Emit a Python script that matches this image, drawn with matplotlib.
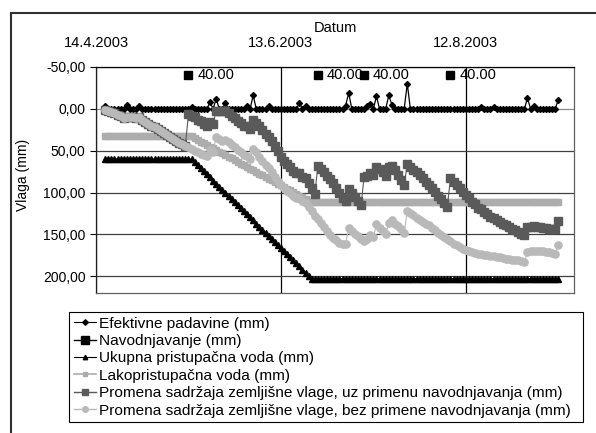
import matplotlib
matplotlib.use('Agg')
import matplotlib.pyplot as plt
from matplotlib.lines import Line2D

plt.rcParams['font.family'] = ['Liberation Sans', 'DejaVu Sans']

# day number counted from 14.4.2003 (day 0)
days = list(range(3, 151))

rain = [-4, 0, 0, 0, 0, 0, 0, -5, 0, 0,
        0, -3, 0, 0, 0, 0, 0, 0, 0, 0,
        0, 0, 0, 0, 0, 0, 0, 0, -2, 0,
        0, 0, 0, 0, -8, 0, -12, 0, 0, -7,
        0, 0, 0, 0, 0, 0, -3, 0, -16, 0,
        0, 0, 0, -3, 0, 0, 0, 0, 0, 0,
        0, 0, 0, -7, 0, -3, 0, 0, 0, 0,
        0, 0, 0, 0, 0, 0, 0, 0, -4, -19,
        0, 0, 0, 0, 0, -4, -6, 0, -15, 0,
        0, 0, -16, -5, 0, 0, 0, 0, -30, 0,
        0, 0, 0, 0, 0, 0, 0, 0, 0, 0,
        0, 0, 0, 0, 0, 0, 0, 0, 0, 0,
        0, 0, -2, 0, 0, 0, -2, 0, 0, 0,
        0, 0, 0, 0, 0, 0, 0, -13, 0, -3,
        0, 0, 0, 0, 0, 0, 0, -11]

irrig_days = [30, 72, 87, 115]
irrig_vals = [-40, -40, -40, -40]

taw = [60, 60, 60, 60, 60, 60, 60, 60, 60, 60,
       60, 60, 60, 60, 60, 60, 60, 60, 60, 60,
       60, 60, 60, 60, 60, 60, 60, 60, 60, 63.7,
       67.3, 71.0, 74.7, 78.3, 82.0, 85.7, 89.3, 93.0, 96.7, 100.3,
       104.0, 107.7, 111.3, 115.0, 118.7, 122.3, 126.0, 129.7, 133.3, 137.0,
       140.7, 144.3, 148.0, 151.7, 155.3, 159.0, 162.7, 166.3, 170.0, 173.7,
       177.3, 181.0, 184.7, 188.3, 192.0, 195.7, 199.3, 203, 203, 203,
       203, 203, 203, 203, 203, 203, 203, 203, 203, 203,
       203, 203, 203, 203, 203, 203, 203, 203, 203, 203,
       203, 203, 203, 203, 203, 203, 203, 203, 203, 203,
       203, 203, 203, 203, 203, 203, 203, 203, 203, 203,
       203, 203, 203, 203, 203, 203, 203, 203, 203, 203,
       203, 203, 203, 203, 203, 203, 203, 203, 203, 203,
       203, 203, 203, 203, 203, 203, 203, 203, 203, 203,
       203, 203, 203, 203, 203, 203, 203, 203]

raw = [33, 33, 33, 33, 33, 33, 33, 33, 33, 33,
       33, 33, 33, 33, 33, 33, 33, 33, 33, 33,
       33, 33, 33, 33, 33, 33, 33, 33, 33, 35.0,
       37.0, 39.1, 41.1, 43.1, 45.1, 47.1, 49.1, 51.2, 53.2, 55.2,
       57.2, 59.2, 61.2, 63.3, 65.3, 67.3, 69.3, 71.3, 73.3, 75.4,
       77.4, 79.4, 81.4, 83.4, 85.4, 87.5, 89.5, 91.5, 93.5, 95.5,
       97.5, 99.6, 101.6, 103.6, 105.6, 107.6, 109.6, 111.7, 111.7, 111.7,
       111.7, 111.7, 111.7, 111.7, 111.7, 111.7, 111.7, 111.7, 111.7, 111.7,
       111.7, 111.7, 111.7, 111.7, 111.7, 111.7, 111.7, 111.7, 111.7, 111.7,
       111.7, 111.7, 111.7, 111.7, 111.7, 111.7, 111.7, 111.7, 111.7, 111.7,
       111.7, 111.7, 111.7, 111.7, 111.7, 111.7, 111.7, 111.7, 111.7, 111.7,
       111.7, 111.7, 111.7, 111.7, 111.7, 111.7, 111.7, 111.7, 111.7, 111.7,
       111.7, 111.7, 111.7, 111.7, 111.7, 111.7, 111.7, 111.7, 111.7, 111.7,
       111.7, 111.7, 111.7, 111.7, 111.7, 111.7, 111.7, 111.7, 111.7, 111.7,
       111.7, 111.7, 111.7, 111.7, 111.7, 111.7, 111.7, 111.7]

with_irrig = [1, 2.5, 4, 5.5, 7, 9, 11, 10, 9.5, 10,
              11, 10, 13, 15.5, 18, 20, 22, 24.5, 27, 29,
              31.5, 34, 36.5, 38.5, 40.5, 42.5, 44, 6, 8, 10,
              13, 15, 18, 21, 16, 18, 2, 2, 3, 2,
              5, 8, 11, 14, 17, 20, 21, 24, 13, 17,
              20, 25, 30, 34, 39, 44, 50, 57, 62, 66,
              70, 74, 77, 77, 81, 83, 89, 95, 102, 68,
              72, 76, 80, 84, 89, 94, 101, 107, 110, 96,
              100, 105, 110, 115, 81, 80, 77, 79, 69, 72,
              76, 80, 70, 68, 73, 79, 85, 91, 66, 70,
              73, 76, 79, 83, 87, 91, 95, 99, 104, 108,
              112, 117, 83, 87, 91, 95, 99, 103, 107, 111,
              114, 118, 120, 123, 126, 129, 130, 133, 135, 137,
              139, 141, 143, 145, 147, 149, 151, 141, 141, 140,
              141, 141, 142, 142, 143, 143, 144, 134]

without_irrig = [1, 2.5, 4, 5.5, 7, 9, 11, 10, 9.5, 10,
                 11, 10, 13, 15.5, 18, 20, 22, 24.5, 27, 29,
                 31.5, 34, 36.5, 38.5, 40.5, 42.5, 44, 46, 48, 50,
                 52, 54, 55, 56, 49, 51, 34, 36, 38, 37,
                 40, 43, 46, 49, 52, 55, 56, 60, 48, 52,
                 57, 62, 67, 71, 76, 81, 86, 91, 95, 98,
                 101, 104, 107, 107, 110, 112, 117, 122, 128, 132,
                 136, 141, 146, 151, 154, 157, 160, 162, 161, 142,
                 146, 149, 152, 155, 158, 155, 151, 153, 138, 142,
                 146, 150, 136, 133, 137, 140, 144, 148, 122, 125,
                 127, 130, 133, 135, 137, 139, 142, 145, 148, 151,
                 153, 156, 158, 161, 163, 165, 167, 169, 170, 171,
                 172, 173, 174, 175, 175, 176, 176, 177, 177, 178,
                 179, 179, 180, 180, 181, 182, 183, 171, 170, 170,
                 170, 170, 170, 171, 171, 172, 173, 163]

date_ticks = [0, 60, 120]
date_labels = ['14.4.2003', '13.6.2003', '12.8.2003']
y_ticks = [-50, 0, 50, 100, 150, 200]
y_tick_labels = ['-50,00', '0,00', '50,00', '100,00', '150,00', '200,00']
series_names = ['Efektivne padavine (mm)',
                'Navodnjavanje (mm)',
                'Ukupna pristupačna voda (mm)',
                'Lakopristupačna voda (mm)',
                'Promena sadržaja zemljišne vlage, uz primenu navodnjavanja (mm)',
                'Promena sadržaja zemljišne vlage, bez primene navodnjavanja (mm)']

W, H = 596, 433
def fx(px):
    return px / W
def fy(py):
    return 1 - py / H

C_RAW = '#adadad'
C_UZ = '#5a5a5a'
C_BEZ = '#b9b9b9'

fig = plt.figure(figsize=(W / 100, H / 100), dpi=100)
ax = fig.add_axes([fx(96), fy(293), fx(573.7) - fx(96), fy(67) - fy(293)])
ax.set_xlim(0, 155)
ax.set_ylim(220, -50)

ax.plot(days, rain, color='black', lw=0.9, marker='D', ms=3.0, zorder=3)
ax.plot(days, taw, color='black', lw=0.9, marker='^', ms=3.8, zorder=3)
ax.plot(days, raw, color=C_RAW, lw=2.0, marker='s', ms=4.0, zorder=3)
ax.plot(days, with_irrig, color=C_UZ, lw=0.8, marker='s', ms=5.2, zorder=4)
ax.plot(days, without_irrig, color=C_BEZ, lw=0.8, marker='o', ms=5.2, zorder=5)
ax.plot(irrig_days, irrig_vals, ls='none', marker='s', ms=5.5, color='black', zorder=6)
for d, v in zip(irrig_days, irrig_vals):
    ax.annotate(f'{abs(v):.2f}', (d, v), xytext=(6.3, 0), textcoords='offset points',
                va='center', ha='left', fontsize=10.5, zorder=7)

ax.set_yticks(y_ticks)
ax.set_yticklabels(y_tick_labels, fontsize=10)
ax.tick_params(axis='y', direction='out', length=4.5, width=0.8, pad=3)
ax.xaxis.tick_top()
ax.set_xticks(date_ticks)
ax.set_xticklabels(date_labels, fontsize=10.5)
ax.tick_params(axis='x', length=0, pad=12.5)

ax.set_axisbelow(True)
ax.grid(True, axis='y', color='#404040', lw=0.9)
ax.grid(True, axis='x', color='black', lw=0.9)
ax.get_ygridlines()[1].set_color('#8c8c8c')

ax.spines['top'].set_color('black')
ax.spines['left'].set_color('#202020')
ax.spines['right'].set_color('#606060')
ax.spines['bottom'].set_color('#606060')
for s in ax.spines.values():
    s.set_linewidth(0.9)

fig.text(fx(335), fy(28), 'Datum', ha='center', va='center', fontsize=10.5)
fig.text(fx(23), fy(175), 'Vlaga (mm)', ha='center', va='center', rotation=90, fontsize=10)

fig.add_artist(Line2D([fx(11), fx(11)], [fy(13), 0], color='#303030', lw=1.5))
fig.add_artist(Line2D([fx(11), 1], [fy(13), fy(13)], color='#303030', lw=1.5))

handles = [Line2D([], [], color='black', lw=0.8, marker='D', ms=2.8),
           Line2D([], [], color='black', lw=1.0, marker='s', ms=5.5),
           Line2D([], [], color='black', lw=0.8, marker='^', ms=3.2),
           Line2D([], [], color=C_RAW, lw=1.2, marker='s', ms=3.2),
           Line2D([], [], color=C_UZ, lw=1.0, marker='s', ms=4.0),
           Line2D([], [], color=C_BEZ, lw=1.0, marker='o', ms=4.0)]
leg = fig.legend(handles, series_names, loc='upper left',
                 bbox_to_anchor=(fx(69), fy(312) - 0.5, fx(583) - fx(69), 0.5),
                 mode='expand', borderaxespad=0, fontsize=11.1, frameon=True,
                 fancybox=False, framealpha=1, edgecolor='black',
                 borderpad=0.3, labelspacing=0.22, handlelength=1.45,
                 handletextpad=0.2, numpoints=1)
leg.get_frame().set_linewidth(0.8)

fig.savefig('out.png', dpi=100)
